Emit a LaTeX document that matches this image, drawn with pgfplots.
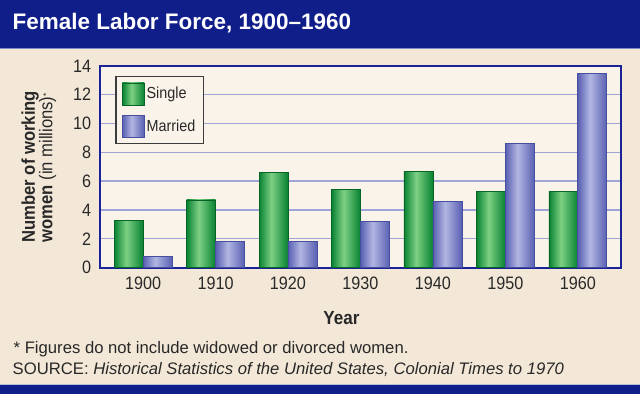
\documentclass[border=0pt]{standalone}
\usepackage{pgfplots}
\pgfplotsset{compat=1.18}
\usepackage{fontspec}
\setmainfont{Liberation Sans}
\newfontfamily\condf[FakeStretch=0.9]{Liberation Sans}
\definecolor{bgc}{RGB}{243,232,216}
\definecolor{plotbg}{RGB}{250,243,233}
\definecolor{titlec}{RGB}{16,30,138}
\definecolor{axisc}{RGB}{25,35,150}
\definecolor{gridc}{RGB}{160,165,215}
\definecolor{gdark}{RGB}{8,130,50}
\definecolor{glight}{RGB}{125,208,132}
\definecolor{gline}{RGB}{6,100,36}
\definecolor{bdark}{RGB}{88,96,178}
\definecolor{blight}{RGB}{178,182,226}
\definecolor{bline}{RGB}{70,78,160}
\definecolor{txt}{RGB}{40,40,40}
\definecolor{legc}{RGB}{60,60,60}
\pgfdeclarehorizontalshading{gbar}{100bp}{color(0bp)=(gdark); color(25bp)=(gdark); color(46bp)=(glight); color(75bp)=(gdark); color(100bp)=(gdark)}
\pgfdeclarehorizontalshading{bbar}{100bp}{color(0bp)=(bdark); color(25bp)=(bdark); color(46bp)=(blight); color(75bp)=(bdark); color(100bp)=(bdark)}
\pgfplotsset{
  gb/.style={ybar, bar shift=-0.2, draw=gline, line width=0.6pt, shading=gbar},
  bb/.style={ybar, bar shift=0.2, draw=bline, line width=0.6pt, shading=bbar},
}

\begin{document}
\begin{tikzpicture}
\fill[bgc] (0pt,0pt) rectangle (640pt,-395pt);
\fill[titlec] (0pt,0pt) rectangle (640pt,-48pt);
\draw[color={rgb,255:red,130;green,140;blue,200}, line width=1pt] (0pt,-48.5pt) -- (640pt,-48.5pt);
\fill[titlec] (0pt,-386pt) rectangle (640pt,-395pt);
\draw[white!70!titlec, line width=1pt] (0pt,-385.5pt) -- (640pt,-385.5pt);
\node[anchor=base west, inner sep=0, text=white, font=\fontsize{22.5}{24}\selectfont\bfseries] at (12pt,-29.5pt) {Female Labor Force, 1900–1960};

\begin{axis}[
  at={(100pt,-268pt)}, anchor=south west,
  scale only axis, width=521pt, height=202pt,
  xmin=-0.59, xmax=6.59, ymin=0, ymax=14,
  xtick={0,...,6}, xticklabels={1900,1910,1920,1930,1940,1950,1960},
  ytick={0,2,...,14},
  major tick length=0pt,
  ymajorgrids, grid style={gridc, line width=1.3pt},
  axis line style={axisc, line width=2pt},
  axis background/.style={fill=plotbg},
  tick label style={font=\condf\fontsize{18}{18}\selectfont, text=txt, inner sep=0pt},
  xticklabel shift=9pt, yticklabel shift=9pt,
  /pgf/number format/assume math mode=true,
  bar width=0.4,
  legend style={at={(axis description cs:0.029,0.95)}, anchor=north west, draw=legc, line width=1.2pt, fill=plotbg, font=\condf\fontsize{16}{16}\selectfont, text=txt, inner xsep=6pt, inner ysep=6pt, row sep=10pt, /tikz/every even column/.append style={column sep=4pt}},
  legend cell align=left,
  legend image code/.code={\draw[#1,/tikz/.cd, line width=0.6pt] (0pt,-11pt) rectangle (22pt,11pt);},
]
\addplot[gb] coordinates {(0,3.3)};
\addlegendentry{Single}
\addplot[bb] coordinates {(0,0.8)};
\addlegendentry{Married}
\addplot[gb, forget plot] coordinates {(1,4.7)};
\addplot[gb, forget plot] coordinates {(2,6.6)};
\addplot[gb, forget plot] coordinates {(3,5.4)};
\addplot[gb, forget plot] coordinates {(4,6.7)};
\addplot[gb, forget plot] coordinates {(5,5.3)};
\addplot[gb, forget plot] coordinates {(6,5.3)};
\addplot[bb, forget plot] coordinates {(1,1.8)};
\addplot[bb, forget plot] coordinates {(2,1.8)};
\addplot[bb, forget plot] coordinates {(3,3.2)};
\addplot[bb, forget plot] coordinates {(4,4.6)};
\addplot[bb, forget plot] coordinates {(5,8.6)};
\addplot[bb, forget plot] coordinates {(6,13.5)};
\end{axis}

\node[rotate=90, anchor=west, align=left, inner sep=0, text=txt, font=\condf\fontsize{18.5}{17.5}\selectfont] at (38.5pt,-243pt) {\textbf{Number of working}\\\textbf{women} (in millions)\raisebox{3pt}{\small *}};
\node[anchor=base, inner sep=0, text=txt, font=\condf\bfseries\fontsize{19}{20}\selectfont] at (341.5pt,-325pt) {Year};
\node[anchor=base west, inner sep=0, text=txt, font=\fontsize{16.7}{18}\selectfont] at (13pt,-354pt) {* Figures do not include widowed or divorced women.};
\node[anchor=base west, inner sep=0, text=txt, font=\fontsize{16.7}{18}\selectfont] at (12pt,-375pt) {SOURCE: \textit{Historical Statistics of the United States, Colonial Times to 1970}};
\end{tikzpicture}
\end{document}
